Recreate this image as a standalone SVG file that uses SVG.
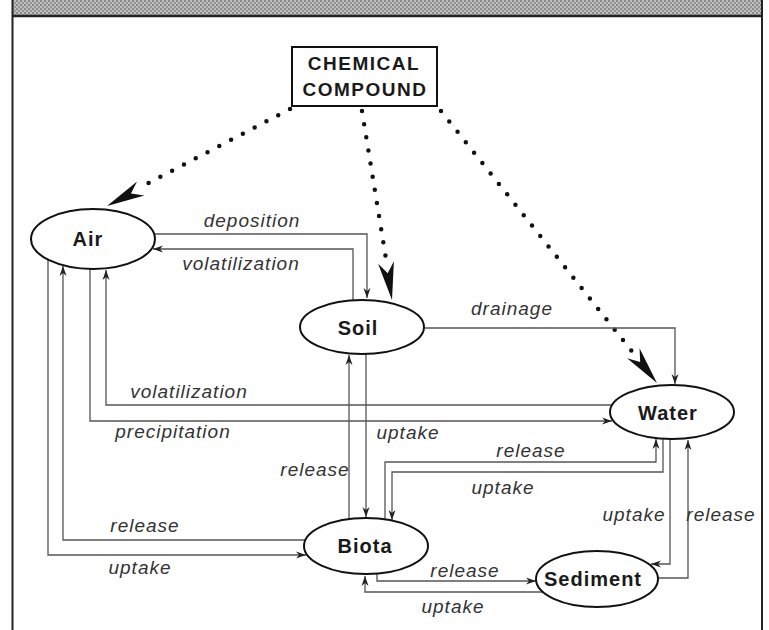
<svg xmlns="http://www.w3.org/2000/svg" xmlns:xlink="http://www.w3.org/1999/xlink" width="769" height="630" viewBox="0 0 769 630">
<style>
.node{fill:#fff;stroke:#111;stroke-width:2}
.nt{font-family:"Liberation Sans",Arial,sans-serif;font-weight:bold;font-size:20px;letter-spacing:1px;fill:#1a1a1a;text-anchor:middle}
.lbl{font-family:"Liberation Sans",Arial,sans-serif;font-style:italic;font-size:19px;letter-spacing:1px;fill:#333;text-anchor:middle}
.c{fill:none;stroke:#555;stroke-width:1.3;marker-end:url(#a)}
.dot{fill:none;stroke:#111;stroke-width:4.5;stroke-linecap:round;stroke-dasharray:0 13.3}
.frame{stroke:#222;stroke-width:2;fill:none}
</style>
<defs>
<marker id="a" viewBox="-11 -4 11 8" refX="0" refY="0" markerWidth="11" markerHeight="8" markerUnits="userSpaceOnUse" orient="auto">
<path d="M0,0 L-10,-3.5 L-7,0 L-10,3.5 Z" fill="#222"/>
</marker>
<path id="bh" d="M0,0 L-38,-8 L-27,0 L-38,8 Z" fill="#111"/>
<pattern id="hp" width="4" height="4" patternUnits="userSpaceOnUse">
<rect width="4" height="4" fill="#bdbdbd"/>
<circle cx="1" cy="1" r="1" fill="#7a7a7a"/>
<circle cx="3" cy="3" r="1" fill="#8a8a8a"/>
</pattern>
</defs>
<rect width="769" height="630" fill="#fff"/>
<g id="frame">
<rect x="13" y="0" width="749" height="15" fill="url(#hp)"/>
<line x1="12" y1="16" x2="763" y2="16" stroke="#222" stroke-width="2.5"/>
<line class="frame" x1="12.5" y1="0" x2="12.5" y2="630"/>
<line class="frame" x1="762" y1="0" x2="762" y2="630"/>
</g>
<g id="connectors">
<path class="dot" d="M290,109 L139,188"/>
<use xlink:href="#bh" transform="translate(107,206) rotate(152.6)"/>
<path class="dot" d="M362,111 L387,265"/>
<use xlink:href="#bh" transform="translate(392,300) rotate(80.9)"/>
<path class="dot" d="M441,111 L634,354"/>
<use xlink:href="#bh" transform="translate(657,383) rotate(51.4)"/>
<path class="c" d="M155,234 H367 V298"/>
<path class="c" d="M353,301 V249 H153"/>
<path class="c" d="M425,328 H675 V384"/>
<path class="c" d="M611,405 H106 V270"/>
<path class="c" d="M90,269 V421 H612"/>
<path class="c" d="M306,540 H63 V266"/>
<path class="c" d="M48,260 V555 H306"/>
<path class="c" d="M349,519 V355"/>
<path class="c" d="M366,354 V517"/>
<path class="c" d="M385,519 V462 H656 V439"/>
<path class="c" d="M663,439 V472 H392 V520"/>
<path class="c" d="M670,439 V564 H651"/>
<path class="c" d="M658,578 H688 V440"/>
<path class="c" d="M377,574 V581 H536"/>
<path class="c" d="M544,592 H365 V576"/>
</g>
<g id="labels">
<text class="lbl" x="252" y="227">deposition</text>
<text class="lbl" x="241" y="270">volatilization</text>
<text class="lbl" x="512" y="315">drainage</text>
<text class="lbl" x="189" y="398">volatilization</text>
<text class="lbl" x="173" y="438">precipitation</text>
<text class="lbl" x="408" y="439">uptake</text>
<text class="lbl" x="315" y="476">release</text>
<text class="lbl" x="531" y="457">release</text>
<text class="lbl" x="503" y="494">uptake</text>
<text class="lbl" x="634" y="521">uptake</text>
<text class="lbl" x="721" y="521">release</text>
<text class="lbl" x="145" y="532">release</text>
<text class="lbl" x="140" y="574">uptake</text>
<text class="lbl" x="465" y="577">release</text>
<text class="lbl" x="453" y="613">uptake</text>
</g>
<g id="compound">
<rect class="node" x="292" y="47" width="145" height="59"/>
<text class="nt" x="364" y="70" style="font-size:19px;letter-spacing:1.5px">CHEMICAL</text>
<text class="nt" x="365" y="96" style="font-size:19px;letter-spacing:1.5px">COMPOUND</text>
</g>
<g id="air">
<ellipse class="node" cx="93" cy="239" rx="62" ry="30"/>
<text class="nt" x="88" y="246">Air</text>
</g>
<g id="soil">
<ellipse class="node" cx="362" cy="327" rx="62" ry="27"/>
<text class="nt" x="358" y="335">Soil</text>
</g>
<g id="water">
<ellipse class="node" cx="672" cy="412" rx="62" ry="27"/>
<text class="nt" x="668" y="420">Water</text>
</g>
<g id="biota">
<ellipse class="node" cx="366" cy="546" rx="62" ry="28"/>
<text class="nt" x="365" y="553">Biota</text>
</g>
<g id="sediment">
<ellipse class="node" cx="597" cy="579" rx="61" ry="28"/>
<text class="nt" x="593" y="586">Sediment</text>
</g>
</svg>
